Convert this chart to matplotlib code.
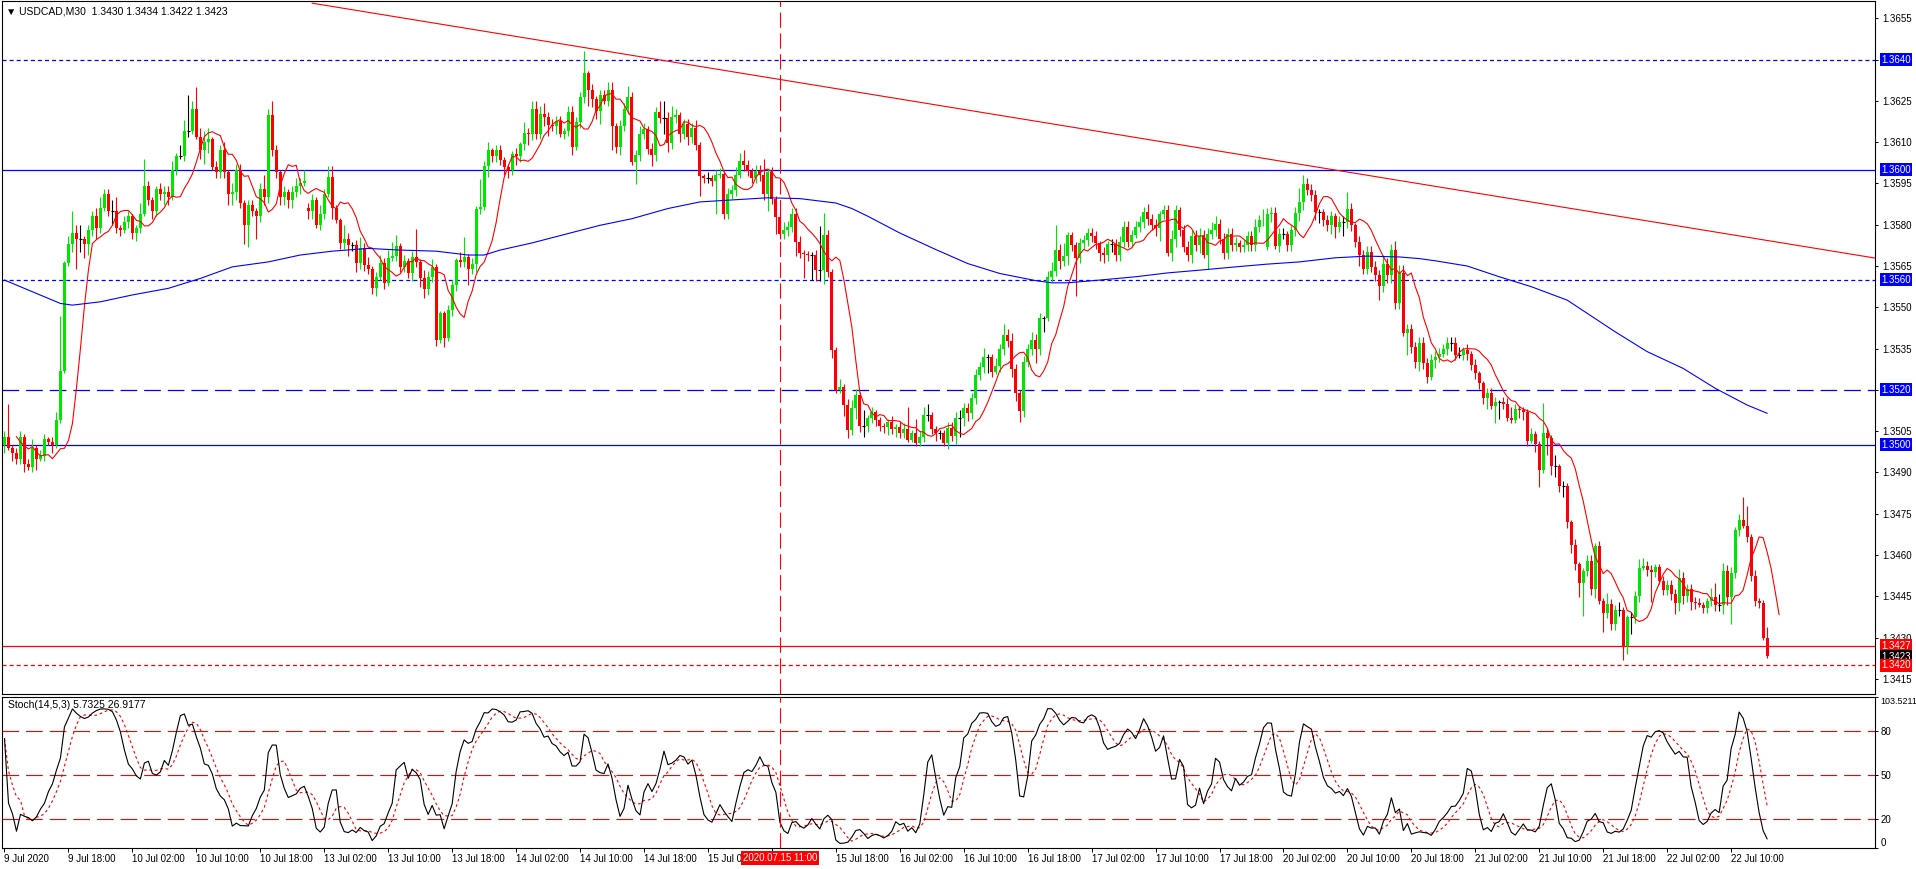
import numpy as np
import pandas as pd
import matplotlib
matplotlib.use("Agg")
import matplotlib.pyplot as plt

plt.rcParams['font.family'] = ['Liberation Sans', 'DejaVu Sans']
plt.rcParams['lines.scale_dashes'] = False

# ---- data (prices in pips above 1.3400) ----
base = 1.3400
first_open = 100
closes = [
    103, 99, 97, 95, 103, 93, 92, 99, 95, 96,
    102, 101, 100, 109, 127, 166, 173, 177, 175, 175,
    173, 178, 183, 179, 186, 191, 185, 185, 179, 178,
    181, 183, 177, 179, 184, 194, 189, 185, 193, 191,
    192, 190, 200, 205, 205, 214, 214, 222, 212, 207,
    210, 211, 201, 199, 207, 199, 191, 192, 200, 188,
    180, 187, 185, 183, 193, 190, 220, 207, 199, 190,
    192, 189, 192, 194, 195, 196, 185, 189, 180, 184,
    191, 197.3, 186, 181.6, 173.2, 175, 172.6, 172.6, 166, 171.4,
    165.3, 164, 157, 161, 166, 158.7, 168, 168.7, 172.2, 164.7,
    166.9, 162.6, 168.4, 166.5, 160.5, 156.5, 161.1, 164.7, 138, 147.8,
    138.7, 149, 158.1, 167.1, 166.5, 168.4, 164.1, 165.9, 185.9, 186.5,
    201.2, 207, 204.8, 207, 203.6, 201, 200, 205.8, 204.8, 209.2,
    213.3, 212.8, 222.1, 213, 220.3, 219, 216.4, 216, 217.6, 213,
    214.2, 221.1, 208.2, 217.3, 226.3, 235, 229, 225.7, 221.5, 227,
    225, 229, 216, 208.2, 216, 222.1, 226.3, 202.8, 205.2, 213,
    214.8, 207.6, 205.2, 220.9, 218.8, 218.8, 209.6, 219, 220, 213,
    216.6, 211.8, 215, 209, 197.6, 197, 197, 196, 198, 198.5,
    184, 191.3, 192.5, 197.9, 203, 201.6, 199.7, 197.1, 199.7, 198,
    191, 199.1, 189.5, 182.8, 176.8, 178, 179.2, 184, 173.8, 169.8,
    169.5, 169, 169, 163.5, 163.5, 176.2, 162.9, 134.5, 120, 121,
    114.6, 105.5, 113.4, 118.2, 106.8, 106.8, 109.8, 111.8, 109, 107,
    106.5, 108.5, 105.8, 106.5, 104.5, 105.8, 101.9, 104.3, 100.7, 103,
    110.8, 110.8, 105.8, 104.3, 104.3, 100.7, 106.2, 103.4, 109.8, 109.8,
    113.4, 111.6, 117, 125.5, 128.2, 132.1, 132.1, 126.6, 128.5, 134.8,
    140, 137.6, 127.5, 118.8, 112.2, 130.3, 134.8, 138.2, 134.8, 146,
    146, 161.1, 163.3, 171, 166.9, 168.5, 176.2, 172.6, 168, 173.2,
    174.4, 177, 175.8, 173.2, 169.8, 169, 173, 173, 169, 173.8,
    179.2, 173.8, 176.2, 179.2, 181, 184.6, 182, 180, 179, 184,
    185.3, 169.8, 175, 185.3, 178, 172, 169, 176, 172.6, 176,
    169, 176.8, 178, 180.2, 175, 169.6, 176.8, 172.6, 173.5, 172,
    172.5, 175.8, 172.6, 179.2, 181.6, 181.9, 184, 184.3, 172.2, 176.8,
    176.8, 172.6, 178, 184.3, 188.3, 194.9, 192.7, 190.7, 184.6, 184.6,
    181.6, 179.8, 183.1, 179.2, 181, 181, 185.9, 179.8, 173.8, 169,
    164.1, 170.2, 164.7, 161.7, 157.7, 165.9, 161.7, 171, 151.4, 162.3,
    140.6, 142, 135.5, 130, 137.2, 129.7, 124.6, 130.9, 132, 133.1,
    134.8, 137.2, 137.2, 132.7, 132.7, 134.5, 133, 129.1, 126, 122.4,
    117, 118.7, 114, 115.5, 115.5, 115, 109.7, 109.1, 113, 112.7,
    112, 101.6, 104, 100.4, 90.8, 104.3, 102.5, 92.2, 92.2, 85,
    85, 71.9, 63.8, 56.6, 49.9, 54.2, 58, 47.5, 63.2, 43.3,
    39.1, 42.1, 34.8, 40, 40, 27, 37.3, 37.3, 45.1, 55.4,
    56, 54.5, 54, 55.8, 50.5, 47.3, 49, 45.7, 42.7, 51.8,
    45.1, 47.5, 42.9, 42.5, 42, 40.9, 43.3, 44.9, 41.7, 41.7,
    54.2, 44.9, 53.6, 69, 72.9, 70.7, 66.6, 52.4, 43.3, 42.7, 30, 23.4,
]
# Monday opening gaps
gap_opens = {76: 186, 316: 172}

# wick lengths in pips (base-36 digit per candle)
wick_up = ("2c12212312" "2123k13835" "1223422451" "22114a2112" "223144d383"
           "4412231322" "1221252521" "2123242213" "2441152124" "2312323541"
           "212a132311" "122137121a" "2312211121" "4233342222" "1222281212"
           "2331224223" "2122462421" "2223112122" "1223342122" "6121132222"
           "1112g82113" "1232161211" "1121228152" "3411112223" "2222231132"
           "4232122322" "1239251112" "2222121222" "2222223221" "2232122223"
           "2233222221" "2223242222" "2122532221" "1221226212" "2222232233"
           "3222222222" "2222312121" "1222122421" "11211b2141" "2112112212"
           "1422311223" "3221122223" "2222211354" "322128712114")
wick_dn = ("3132231241" "21311113b5" "5424212522" "1223212322" "4312122113"
           "5412224432" "7828232223" "3332313312" "2141224232" "2223121122"
           "2232332221" "3122226232" "1422233232" "2422234231" "2231226335"
           "1292322182" "2242263223" "23227222c1" "2222122222" "2626222252"
           "9294452311" "4324242222" "2323221111" "2223212237" "3322226212"
           "2233422252" "51223232e2" "2222332322" "2221222235" "2133222323"
           "1522222222" "2222221312" "2222332234" "2234252224" "2222523322"
           "1822322132" "1232122222" "2416621113" "3213616342" "42325c2231"
           "7222253622" "12b2122243" "3232122222" "33a221222211")

# slow moving average (bar index, pips)
ma_slow_idx = [0, 14, 17, 24, 32, 41, 49, 57, 66, 74, 82, 91, 99, 108, 116, 120,
               124, 132, 141, 149, 157, 166, 174, 183, 191, 199, 208, 212, 216,
               224, 233, 241, 249, 258, 262, 266, 274, 283, 291, 299, 308, 316,
               324, 333, 341, 349, 354, 358, 366, 374, 382, 391, 403, 411, 420,
               428, 436, 441]
ma_slow_pips = [159.9, 151.4, 150.8, 152, 154.5, 156.9, 160.5, 164.7, 166.5, 169,
                170.4, 171.4, 170.8, 170.4, 169, 169, 170.8, 173.4, 176.8, 179.8,
                182.2, 185.9, 188.3, 189.1, 189.8, 189.5, 187.9, 185.9, 183.1, 177,
                171, 165.9, 162.3, 159.7, 158.9, 158.9, 159.9, 161.1, 162.5, 163.5,
                164.7, 165.7, 166.5, 168, 168.6, 168.3, 167.7, 166.9, 165, 161.1,
                157.5, 152.6, 141.1, 133.9, 127.8, 120.6, 114.5, 111.5]

trend_idx = [77, 468]
trend_price = [1.36605, 1.35679]

hlevels = [1.3640, 1.3600, 1.3560, 1.3520, 1.3500, 1.3427, 1.3420]
hcolors = ['#0000ff', '#0000ff', '#0000ff', '#0000ff', '#0000ff', '#ff0000', '#ff0000']
hstyles = ['dot', 'solid', 'dot', 'dash', 'solid', 'solid', 'dot']
bid = 1.3423
cursor_bar = 194
cursor_label = "2020.07.15 11:00"
stoch_levels = [20, 50, 80]

title_main = "\u25bc USDCAD,M30  1.3430 1.3434 1.3422 1.3423"
title_stoch = "Stoch(14,5,3) 5.7325 26.9177"

# ---- build candles ----
n = len(closes)
x = np.arange(n)
c_p = np.array(closes, dtype=float)
o_p = np.r_[first_open, c_p[:-1]]
for k, v in gap_opens.items():
    o_p[k] = v
up = np.array([int(ch, 36) for ch in wick_up], dtype=float)
dn = np.array([int(ch, 36) for ch in wick_dn], dtype=float)
h_p = np.maximum(o_p, c_p) + up
l_p = np.minimum(o_p, c_p) - dn

O = base + o_p / 1e4
C = base + c_p / 1e4
H = base + h_p / 1e4
L = base + l_p / 1e4

green, red = '#00e600', '#ff0000'
cols = np.where(C > O, green, np.where(C < O, red, 'black'))

times = pd.date_range('2020-07-09 10:00', periods=n * 2, freq='30min')
times = times[times.weekday < 5][:n]

# ---- figure ----
W, Hh = 1916, 869
fig = plt.figure(figsize=(W / 100, Hh / 100), dpi=100)
ax1 = fig.add_axes([1.5 / W, 1 - 694 / Hh, 1873.5 / W, 693 / Hh])
ax2 = fig.add_axes([1.5 / W, 1 - 848 / Hh, 1873.5 / W, 151 / Hh])

for ax in (ax1, ax2):
    ax.set_xlim(-0.75, 468)
    for s in ax.spines.values():
        s.set_linewidth(0.8)
        s.set_color('black')

ax1.set_ylim(1.34095, 1.36613)

dash_map = {'solid': '-', 'dot': (0, (2.9, 2.2)), 'dash': (0, (12, 5))}
for lvl, col, st in zip(hlevels, hcolors, hstyles):
    ax1.axhline(lvl, color=col, lw=0.9, ls=dash_map[st], zorder=1)

ax1.plot(trend_idx, trend_price, color='red', lw=0.8, zorder=1)

ax1.vlines(x, L, H, colors=cols, lw=0.8, zorder=2)
body_lo = np.minimum(O, C)
body_h = np.abs(C - O)
ax1.bar(x, body_h, bottom=body_lo, width=0.75, color=cols, linewidth=0, zorder=3)
doji = C == O
ax1.hlines(C[doji], x[doji] - 0.4, x[doji] + 0.4, colors='black', lw=0.8, zorder=3)

ma_fast = pd.Series(C).rolling(5, min_periods=1).mean().values
ax1.plot(x + 3, ma_fast, color='red', lw=0.8, zorder=4)
ax1.plot(ma_slow_idx, base + np.array(ma_slow_pips) / 1e4, color='blue', lw=0.8, zorder=4)

ax1.axvline(cursor_bar, color='red', lw=0.8, ls=(0, (11, 4)), zorder=5)

# right price scale
ax1.yaxis.tick_right()
ticks = np.round(np.arange(1.3655, 1.3414, -0.0015), 4)
ax1.set_yticks(ticks)
ax1.set_yticklabels([f"{t:.4f}" for t in ticks])
ax1.tick_params(axis='y', length=2.5, width=0.7, pad=2.5, labelsize=7)
ax1.set_xticks([])

def price_box(ax, y, txt, fc):
    ax.annotate(txt, xy=(1.0, y), xycoords=('axes fraction', 'data'),
                xytext=(4.5, 0), textcoords='offset points', ha='left', va='center',
                fontsize=7, color='white', zorder=10, annotation_clip=False,
                bbox=dict(boxstyle='square,pad=0.15', fc=fc, ec='none'))

for lvl, col in zip(hlevels[:6], hcolors[:6]):
    price_box(ax1, lvl, f"{lvl:.4f}", col)
price_box(ax1, bid, f"{bid:.4f}", 'black')
price_box(ax1, hlevels[6], f"{hlevels[6]:.4f}", hcolors[6])

ax1.text(4 / 1873.5, 1 - 10 / 693, title_main, transform=ax1.transAxes,
         fontsize=7.5, va='center', ha='left',
         family=['Liberation Sans', 'DejaVu Sans'])

# ---- stochastic ----
Hs, Ls, Cs = pd.Series(H), pd.Series(L), pd.Series(C)
ll = Ls.rolling(14, min_periods=1).min()
hh = Hs.rolling(14, min_periods=1).max()
k_line = 100 * (Cs - ll).rolling(3, min_periods=1).sum() / (hh - ll).rolling(3, min_periods=1).sum()
d_line = k_line.rolling(5, min_periods=1).mean()

ax2.set_ylim(0, 103.5211)
for lv in stoch_levels:
    ax2.axhline(lv, color='red', lw=0.8, ls=(0, (12, 5)), zorder=1)
ax2.plot(x, d_line, color='red', lw=0.8, ls=(0, (2, 2)), zorder=2)
ax2.plot(x, k_line, color='black', lw=0.8, zorder=3)
ax2.axvline(cursor_bar, color='red', lw=0.8, ls=(0, (11, 4)), zorder=5)

ax2.yaxis.tick_right()
ax2.set_yticks([0, 20, 50, 80, 103.5211])
ax2.set_yticklabels(['0', '20', '50', '80', '103.5211'])
ax2.tick_params(axis='y', length=2.5, width=0.7, pad=1.5, labelsize=7)
ylabs = ax2.get_yticklabels()
ylabs[0].set_verticalalignment('bottom')
ylabs[-1].set_verticalalignment('top')
ylabs[-1].set_fontsize(6.4)

ax2.text(6 / 1873.5, 1 - 8 / 151, title_stoch, transform=ax2.transAxes,
         fontsize=7.5, va='center', ha='left')

tick_pos = list(range(0, n, 16))
tick_lab = []
for i in tick_pos:
    t = times[i]
    if i == 0:
        tick_lab.append(f"{t.day} {t:%b} {t.year}")
    elif abs(i - cursor_bar) < 8:
        tick_lab.append("")  # hidden under the cursor time box
    else:
        tick_lab.append(f"{t.day} {t:%b} {t:%H:%M}")
ax2.set_xticks(tick_pos)
ax2.set_xticklabels(tick_lab, ha='left')
ax2.tick_params(axis='x', length=3, width=0.7, pad=1.5, labelsize=7)

ax2.annotate(cursor_label, xy=(cursor_bar, 0), xycoords=('data', 'axes fraction'),
             xytext=(0, -7.5), textcoords='offset points', ha='center', va='center',
             fontsize=7, color='white', zorder=10, annotation_clip=False,
             bbox=dict(boxstyle='square,pad=0.2', fc='red', ec='none'))

fig.savefig('out.png', dpi=100)
